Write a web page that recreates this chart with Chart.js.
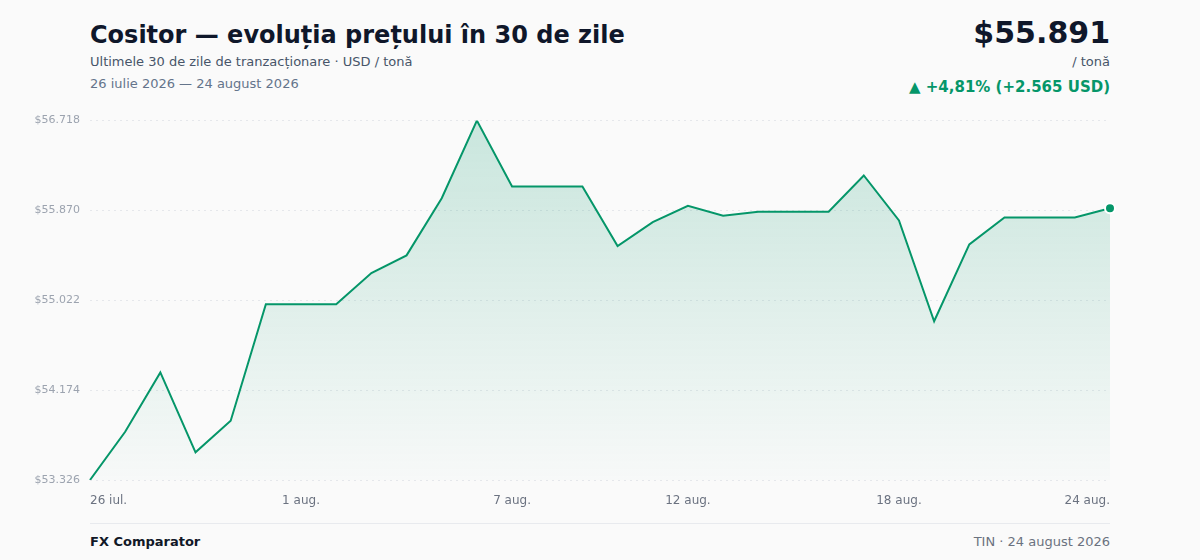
<!DOCTYPE html>
<html lang="ro">
<head>
<meta charset="utf-8">
<title>Cositor — evoluția prețului în 30 de zile</title>
<script src="https://cdn.jsdelivr.net/npm/chart.js@4.4.1/dist/chart.umd.min.js"></script>
<style>
  html, body { margin: 0; padding: 0; background: #fafafa; }
  body { width: 1200px; height: 560px; position: relative; overflow: hidden;
         font-family: "DejaVu Sans", sans-serif; }
  .abs { position: absolute; white-space: nowrap; line-height: 1; }
  #title { left: 90px; top: 23px; font-size: 24px; font-weight: bold; color: #0f172a; }
  #subtitle { left: 90px; top: 55px; font-size: 13px; color: #475569; }
  #range { left: 90px; top: 77px; font-size: 13px; color: #64748b; }
  #price { right: 90px; top: 18px; font-size: 30px; font-weight: bold; color: #0f172a; }
  #unit { right: 90px; top: 55px; font-size: 13px; color: #475569; }
  #change { right: 90px; top: 80px; font-size: 15px; font-weight: bold; color: #059669; }
  #chartBox { position: absolute; left: 0; top: 104px; width: 1200px; height: 406px; }
  #rule { position: absolute; left: 90px; top: 523px; width: 1020px; height: 1px; background: #e8eaee; }
  #brand { left: 90px; top: 535px; font-size: 13px; font-weight: bold; color: #111827; }
  #source { right: 90px; top: 535px; font-size: 13px; color: #6b7280; }
</style>
</head>
<body>
<div class="abs" id="title">Cositor — evoluția prețului în 30 de zile</div>
<div class="abs" id="subtitle">Ultimele 30 de zile de tranzacționare · USD / tonă</div>
<div class="abs" id="range">26 iulie 2026 — 24 august 2026</div>
<div class="abs" id="price">$55.891</div>
<div class="abs" id="unit">/ tonă</div>
<div class="abs" id="change">▲ +4,81% (+2.565 USD)</div>
<div id="chartBox"><canvas id="chart"></canvas></div>
<div id="rule"></div>
<div class="abs" id="brand">FX Comparator</div>
<div class="abs" id="source">TIN · 24 august 2026</div>

<script>
const days = [
  "26 iul.", "27 iul.", "28 iul.", "29 iul.", "30 iul.", "31 iul.",
  "1 aug.", "2 aug.", "3 aug.", "4 aug.", "5 aug.", "6 aug.",
  "7 aug.", "8 aug.", "9 aug.", "10 aug.", "11 aug.", "12 aug.",
  "13 aug.", "14 aug.", "15 aug.", "16 aug.", "17 aug.", "18 aug.",
  "19 aug.", "20 aug.", "21 aug.", "22 aug.", "23 aug.", "24 aug."
];

// pret USD / tona
const prices = [
  53326, 53781, 54341, 53587, 53885, 54984,
  54984, 54984, 55279, 55446, 55986, 56718,
  56096, 56096, 56096, 55534, 55760, 55914,
  55820, 55858, 55858, 55858, 56200, 55776,
  54824, 55550, 55804, 55804, 55804, 55891
];

const shownDays = [0, 6, 12, 17, 23, 29];
const yTicks = [53326, 54174, 55022, 55870, 56718];

const green = "#059669";

function formatUsd(value) {
  const txt = Math.round(value).toString().replace(/\B(?=(\d{3})+(?!\d))/g, ".");
  return "$" + txt;
}

function areaGradient(context) {
  const area = context.chart.chartArea;
  if (!area) {
    return "rgba(5, 150, 105, 0.1)";
  }
  const g = context.chart.ctx.createLinearGradient(0, area.top, 0, area.bottom);
  g.addColorStop(0, "rgba(5, 150, 105, 0.20)");
  g.addColorStop(1, "rgba(5, 150, 105, 0.01)");
  return g;
}

const lastIndex = prices.length - 1;

new Chart(document.getElementById("chart"), {
  type: "line",
  data: {
    labels: days,
    datasets: [
      {
        data: prices,
        borderColor: green,
        borderWidth: 2,
        backgroundColor: areaGradient,
        fill: "start",
        tension: 0,
        pointRadius: (ctx) => (ctx.dataIndex === lastIndex ? 5 : 0),
        pointBackgroundColor: green,
        pointBorderColor: "#ffffff",
        pointBorderWidth: 2,
        pointHoverRadius: 5,
      },
    ],
  },
  options: {
    responsive: true,
    maintainAspectRatio: false,
    animation: false,
    layout: {
      autoPadding: false,
      padding: { left: 0, right: 90, top: 4, bottom: 0 },
    },
    plugins: {
      legend: { display: false },
      tooltip: { enabled: false },
    },
    scales: {
      x: {
        offset: false,
        grid: { display: false, drawTicks: false },
        border: { display: false },
        afterFit: (scale) => { scale.height = 30; },
        ticks: {
          autoSkip: false,
          maxRotation: 0,
          align: "inner",
          padding: 14,
          color: "#6b7280",
          font: { family: "DejaVu Sans", size: 12 },
          callback: (value, index) => (shownDays.includes(index) ? days[index] : ""),
        },
      },
      y: {
        min: yTicks[0],
        max: yTicks[yTicks.length - 1],
        afterFit: (scale) => { scale.width = 90; },
        afterBuildTicks: (scale) => {
          scale.ticks = yTicks.map((v) => ({ value: v }));
        },
        grid: {
          color: "#e5e7eb",
          drawTicks: false,
        },
        border: { display: false, dash: [2, 4] },
        ticks: {
          padding: 10,
          color: "#9ca3af",
          font: { family: "DejaVu Sans", size: 11 },
          callback: (value) => formatUsd(value),
        },
      },
    },
  },
});
</script>
</body>
</html>
